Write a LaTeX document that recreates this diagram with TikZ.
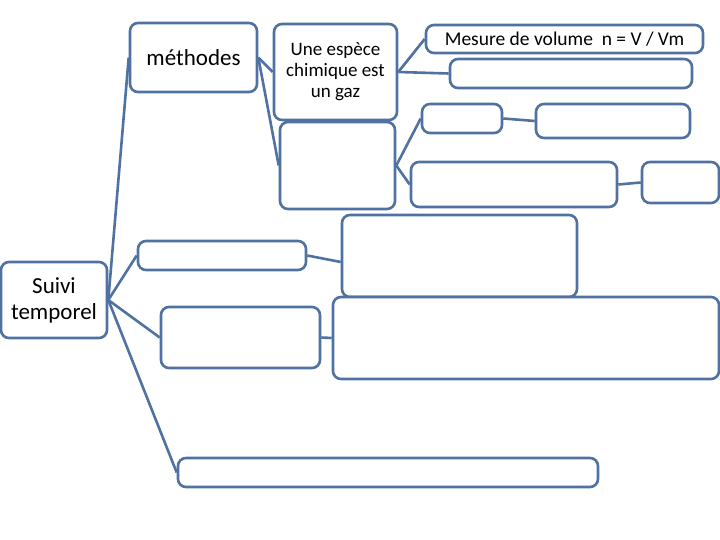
\documentclass[tikz,border=0pt]{standalone}
\usepackage{fontspec}
\setmainfont{Carlito}
\definecolor{lineblue}{RGB}{79,114,162}
\tikzset{
  box/.style={draw=lineblue, line width=2.6pt, rounded corners=8pt, fill=white, inner sep=0pt, text=black, align=center},
  conn/.style={draw=lineblue, line width=2.6pt},
}
\begin{document}
\begin{tikzpicture}[x=1pt,y=-1pt]
\useasboundingbox (0,0) rectangle (720,540);
% nodes
\node[box, minimum width=127pt, minimum height=69pt, font=\fontsize{23}{26}\selectfont] (meth) at (193.5,57.5) {méthodes};
\node[box, minimum width=123pt, minimum height=96pt, font=\fontsize{19}{21}\selectfont] (gaz) at (335.5,72) {Une espèce\\chimique est\\un gaz};
\node[box, minimum width=115pt, minimum height=87pt] (b3) at (337.5,165.5) {};
\node[box, minimum width=277pt, minimum height=28pt, font=\fontsize{19.5}{22}\selectfont] (mes) at (564.5,39) {Mesure de volume~ n = V / Vm};
\node[box, minimum width=242pt, minimum height=29pt] (b5) at (571,73.5) {};
\node[box, minimum width=80pt, minimum height=29pt] (b6) at (462,118.5) {};
\node[box, minimum width=154pt, minimum height=34pt] (b7) at (613,121) {};
\node[box, minimum width=206pt, minimum height=45pt] (b8) at (514,184.5) {};
\node[box, minimum width=77pt, minimum height=41pt] (b9) at (680.5,182.5) {};
\node[box, minimum width=106pt, minimum height=76pt, font=\fontsize{23}{26}\selectfont] (suivi) at (54,300) {Suivi\\temporel};
\node[box, minimum width=168pt, minimum height=29pt] (b11) at (222,255.5) {};
\node[box, minimum width=159pt, minimum height=61pt] (b12) at (240.5,337.5) {};
\node[box, minimum width=420pt, minimum height=29pt] (b13) at (388,472.5) {};
\node[box, minimum width=235pt, minimum height=82pt] (b14) at (459.5,256) {};
\node[box, minimum width=386pt, minimum height=82pt] (b15) at (526,338) {};
% connectors
\draw[conn] (suivi.east) -- (meth.west);
\draw[conn] (suivi.east) -- (b11.west);
\draw[conn] (suivi.east) -- (b12.west);
\draw[conn] (suivi.east) -- (b13.west);
\draw[conn] (b11.east) -- ([yshift=-6pt]b14.west);
\draw[conn] (b12.east) -- (b15.west);
\draw[conn] (meth.east) -- (gaz.west);
\draw[conn] (meth.east) -- (b3.west);
\draw[conn] (gaz.east) -- (mes.west);
\draw[conn] (gaz.east) -- (b5.west);
\draw[conn] (b3.east) -- (b6.west);
\draw[conn] (b3.east) -- (b8.west);
\draw[conn] (b6.east) -- (b7.west);
\draw[conn] (b8.east) -- (b9.west);
\end{tikzpicture}
\end{document}
